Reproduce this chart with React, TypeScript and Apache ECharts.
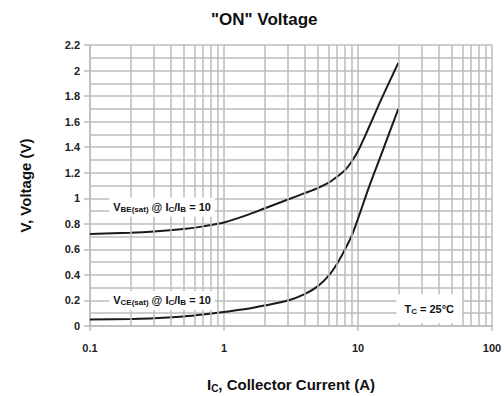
import React, { useEffect, useRef } from "react";
import * as echarts from "echarts";

const currents = [0.1, 0.2, 0.3, 0.5, 0.7, 1, 1.5, 2, 3, 4, 5, 6, 7, 8, 9, 10, 12, 15, 20];
const vbeSat = [0.72, 0.73, 0.74, 0.76, 0.78, 0.81, 0.87, 0.92, 0.99, 1.04, 1.08, 1.12, 1.17, 1.22, 1.29, 1.37, 1.55, 1.78, 2.06];
const vceSat = [0.05, 0.055, 0.06, 0.075, 0.09, 0.11, 0.135, 0.16, 0.2, 0.25, 0.31, 0.39, 0.49, 0.6, 0.71, 0.84, 1.08, 1.35, 1.7];
const minorX = [0.2, 0.3, 0.4, 0.5, 0.6, 0.7, 0.8, 0.9, 2, 3, 4, 5, 6, 7, 8, 9, 20, 30, 40, 50, 60, 70, 80, 90];

const FONT = "Liberation Sans, Arial, sans-serif";
const GRID = "#bcbcbc";

export default function App() {
  const ref = useRef<HTMLDivElement>(null);
  useEffect(() => {
    if (!ref.current) return;
    const chart = echarts.init(ref.current, undefined, { renderer: "svg" });
    const subRich = {
      m: { fontSize: 11, fontWeight: "bold", color: "#111", fontFamily: FONT },
      s: { fontSize: 8, fontWeight: "bold", color: "#111", fontFamily: FONT, padding: [5, 0, 0, 0] },
    };
    const boxLabel = (text: string) => ({
      show: true,
      position: "inside",
      formatter: text,
      backgroundColor: "#fff",
      padding: [3, 4, 3, 4],
      rich: subRich,
    });
    chart.setOption({
      animation: false,
      backgroundColor: "#fff",
      title: {
        text: '"ON" Voltage',
        left: 206,
        top: 6,
        textStyle: { fontSize: 17, fontWeight: "bold", color: "#111", fontFamily: FONT },
      },
      grid: { left: 90, right: 12, top: 45, bottom: 70, outerBoundsMode: "none", containLabel: false },
      xAxis: {
        type: "log",
        logBase: 10,
        min: 0.1,
        max: 100,
        name: "{m|I}{s|C}{m|, Collector Current (A)}",
        nameLocation: "middle",
        nameGap: 50,
        nameTextStyle: {
          rich: {
            m: { fontSize: 15, fontWeight: "bold", color: "#111", fontFamily: FONT },
            s: { fontSize: 10, fontWeight: "bold", color: "#111", fontFamily: FONT, padding: [7, 0, 0, 0] },
          },
        },
        axisLine: { show: true, lineStyle: { color: GRID, width: 1.5 } },
        axisTick: { show: true, length: 5, lineStyle: { color: GRID, width: 1.5 } },
        axisLabel: { fontSize: 11, fontWeight: "bold", color: "#222", fontFamily: FONT, margin: 16 },
        splitLine: { show: true, lineStyle: { color: GRID, width: 1.5 } },
      },
      yAxis: {
        type: "value",
        min: 0,
        max: 2.2,
        interval: 0.2,
        name: "V, Voltage (V)",
        nameLocation: "middle",
        nameGap: 57,
        nameRotate: 90,
        nameTextStyle: { fontSize: 15, fontWeight: "bold", color: "#111", fontFamily: FONT },
        axisLine: { show: true, lineStyle: { color: GRID, width: 1.5 } },
        axisTick: { show: true, length: 6, lineStyle: { color: GRID, width: 1.5 } },
        axisLabel: {
          fontSize: 11,
          fontWeight: "bold",
          color: "#222",
          fontFamily: FONT,
          margin: 10,
          formatter: (v: number) => String(Math.round(v * 10) / 10),
        },
        splitLine: { show: true, lineStyle: { color: GRID, width: 1.5 } },
        minorTick: { show: false, splitNumber: 2 },
        minorSplitLine: { show: true, lineStyle: { color: GRID, width: 1.5 } },
      },
      series: [
        {
          type: "line",
          data: [],
          silent: true,
          markLine: {
            silent: true,
            symbol: "none",
            label: { show: false },
            lineStyle: { color: GRID, width: 1.5, type: "solid" },
            data: minorX.map((x) => ({ xAxis: x })),
          },
        },
        {
          name: "VBE(sat)",
          type: "line",
          smooth: 0.3,
          showSymbol: false,
          lineStyle: { color: "#1a1a1a", width: 2 },
          data: currents.map((c, i) => [c, vbeSat[i]]),
          markPoint: {
            symbolSize: 0,
            silent: true,
            data: [
              {
                coord: [0.345, 0.93],
                label: boxLabel("{m|V}{s|BE(sat)}{m| @ I}{s|C}{m|/I}{s|B}{m| = 10}"),
              },
            ],
          },
        },
        {
          name: "VCE(sat)",
          type: "line",
          smooth: 0.3,
          showSymbol: false,
          lineStyle: { color: "#1a1a1a", width: 2 },
          data: currents.map((c, i) => [c, vceSat[i]]),
          markPoint: {
            symbolSize: 0,
            silent: true,
            data: [
              {
                coord: [0.345, 0.2],
                label: boxLabel("{m|V}{s|CE(sat)}{m| @ I}{s|C}{m|/I}{s|B}{m| = 10}"),
              },
              {
                coord: [34, 0.135],
                label: {
                  ...boxLabel("{m|T}{s|C}{m| = 25°C}"),
                  padding: [8, 8, 8, 8],
                },
              },
            ],
          },
        },
      ],
    });
    return () => chart.dispose();
  }, []);
  return <div ref={ref} style={{ width: 504, height: 396, position: "absolute", left: 0, top: 0 }} />;
}
